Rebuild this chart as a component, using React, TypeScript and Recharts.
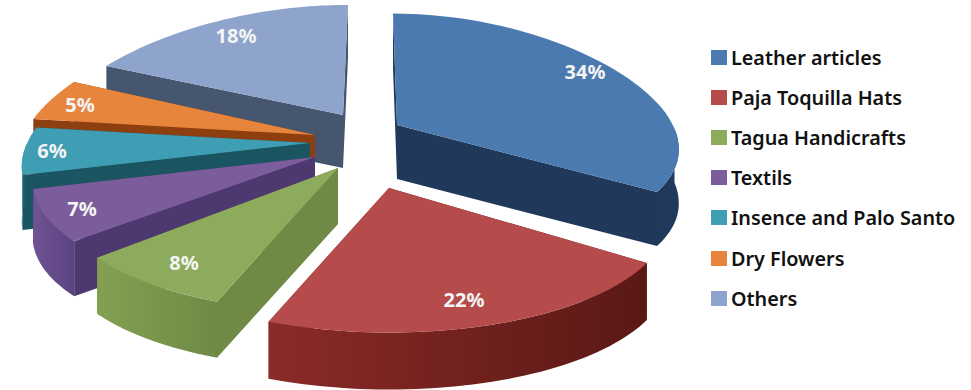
import React from "react";
import { PieChart, Pie, Legend } from "recharts";

const categories = [
  "Leather articles",
  "Paja Toquilla Hats",
  "Tagua Handicrafts",
  "Textils",
  "Insence and Palo Santo",
  "Dry Flowers",
  "Others",
];
const shares = [34, 22, 8, 7, 6, 5, 18];

const topColors = ["#4a7aaf", "#b54c4b", "#8dab5c", "#7c5d9b", "#3f9db4", "#e8853d", "#8ea4cd"];
const sideColors = ["#20395a", "#6e1f1c", "#6f8a45", "#4e3870", "#1a5561", "#8e3f10", "#47566f"];
const rimFrom = ["#20395a", "#8a2b28", "#83a052", "#6f5394", "#1f6a7a", "#a24c14", "#55678a"];
const rimTo = ["#1d3a5c", "#5a1815", "#6f8a45", "#5c4380", "#1a5561", "#8e3f10", "#47566f"];

// pulled-out tip of each wedge and its radius stretch, same order as categories
const wedgeLook = [
  { tipX: 397, tipY: 125, rx: 0.985, ry: 0.43, lean: 4, depth: 54, labelX: 585, labelY: 71 },
  { tipX: 389, tipY: 188, rx: 0.985, ry: 0.48, lean: 0, depth: 57, labelX: 464, labelY: 299 },
  { tipX: 338, tipY: 168, rx: 0.99, ry: 0.48, lean: 0, depth: 56, labelX: 184, labelY: 262 },
  { tipX: 315, tipY: 157, rx: 0.99, ry: 0.45, lean: 0, depth: 55, labelX: 82, labelY: 208 },
  { tipX: 310, tipY: 143, rx: 1.01, ry: 0.45, lean: 0, depth: 55, labelX: 52, labelY: 150 },
  { tipX: 315, tipY: 135, rx: 1.04, ry: 0.46, lean: 0, depth: 55, labelX: 80, labelY: 104 },
  { tipX: 343, tipY: 115, rx: 1.03, ry: 0.425, lean: -5, depth: 53, labelX: 236, labelY: 35 },
];

// the pie runs counter-clockwise from the back so the front wedges paint last
const pieData = categories
  .map((name, i) => ({ name, value: shares[i] }))
  .reverse();

const Wedge3D = (props: any) => {
  const { name, startAngle, endAngle, outerRadius } = props;
  const i = categories.indexOf(name);
  const look = wedgeLook[i];
  const rx = outerRadius * look.rx;
  const ry = outerRadius * look.ry;

  const project = (deg: number) => {
    const a = (deg * Math.PI) / 180;
    const s = -Math.sin(a);
    return [
      look.tipX + rx * (1 + 0.2 * s) * Math.cos(a) + look.lean * s,
      look.tipY + ry * (1 + 0.075 * s) * s,
    ];
  };

  const arc: number[][] = [];
  const frontArc: number[][] = [];
  const steps = 48;
  for (let k = 0; k <= steps; k++) {
    const deg = startAngle + ((endAngle - startAngle) * k) / steps;
    const p = project(deg);
    arc.push(p);
    // only the part of the rim that faces the viewer gets a wall
    if (Math.sin((deg * Math.PI) / 180) <= 0) frontArc.push(p);
  }
  const d = look.depth;
  const path = (pts: number[][]) =>
    "M" + pts.map((p) => `${p[0].toFixed(1)},${p[1].toFixed(1)}`).join("L") + "Z";
  const tip = [look.tipX, look.tipY];
  const down = (p: number[]) => [p[0], p[1] + d];
  const first = arc[0];
  const last = arc[arc.length - 1];
  const gradId = `rim-${i}`;

  return (
    <g>
      <defs>
        <linearGradient id={gradId} x1="0" y1="0" x2="1" y2="0">
          <stop offset="0%" stopColor={rimFrom[i]} />
          <stop offset="100%" stopColor={rimTo[i]} />
        </linearGradient>
      </defs>
      <path d={path([tip, first, down(first), down(tip)])} fill={sideColors[i]} />
      <path d={path([tip, last, down(last), down(tip)])} fill={sideColors[i]} />
      {frontArc.length > 1 && (
        <path d={path([...frontArc, ...frontArc.map(down).reverse()])} fill={`url(#${gradId})`} />
      )}
      <path d={path([tip, ...arc])} fill={topColors[i]} />
    </g>
  );
};

const renderPercent = (props: any) => {
  const look = wedgeLook[categories.indexOf(props.name)];
  return (
    <text
      x={look.labelX}
      y={look.labelY}
      textAnchor="middle"
      dominantBaseline="central"
      fill="#f4f4f4"
      fontFamily="'Noto Sans', sans-serif"
      fontWeight={700}
      fontSize={20}
    >
      {`${props.value}%`}
    </text>
  );
};

const renderLegend = () => (
  <div>
    {categories.map((name, i) => (
      <div key={name} style={{ display: "flex", alignItems: "center", height: 40.2 }}>
        <span style={{ width: 16, height: 15, marginRight: 4, background: topColors[i] }} />
        <span
          style={{
            fontFamily: "'Noto Sans', sans-serif",
            fontWeight: 600,
            fontSize: 19.8,
            color: "#111",
            whiteSpace: "nowrap",
          }}
        >
          {name}
        </span>
      </div>
    ))}
  </div>
);

export default function App() {
  return (
    <div style={{ position: "absolute", left: 0, top: 0, width: 971, height: 390, background: "#fff" }}>
      <PieChart width={971} height={390} margin={{ top: 0, right: 0, bottom: 0, left: 0 }}>
        <Pie
          data={pieData}
          dataKey="value"
          nameKey="name"
          cx={350}
          cy={170}
          outerRadius={280}
          startAngle={90}
          endAngle={450}
          stroke="none"
          shape={Wedge3D}
          label={renderPercent}
          labelLine={false}
          isAnimationActive={false}
        />
        <Legend
          content={renderLegend}
          layout="vertical"
          wrapperStyle={{ position: "absolute", left: 711, top: 37, width: 260 }}
        />
      </PieChart>
    </div>
  );
}
